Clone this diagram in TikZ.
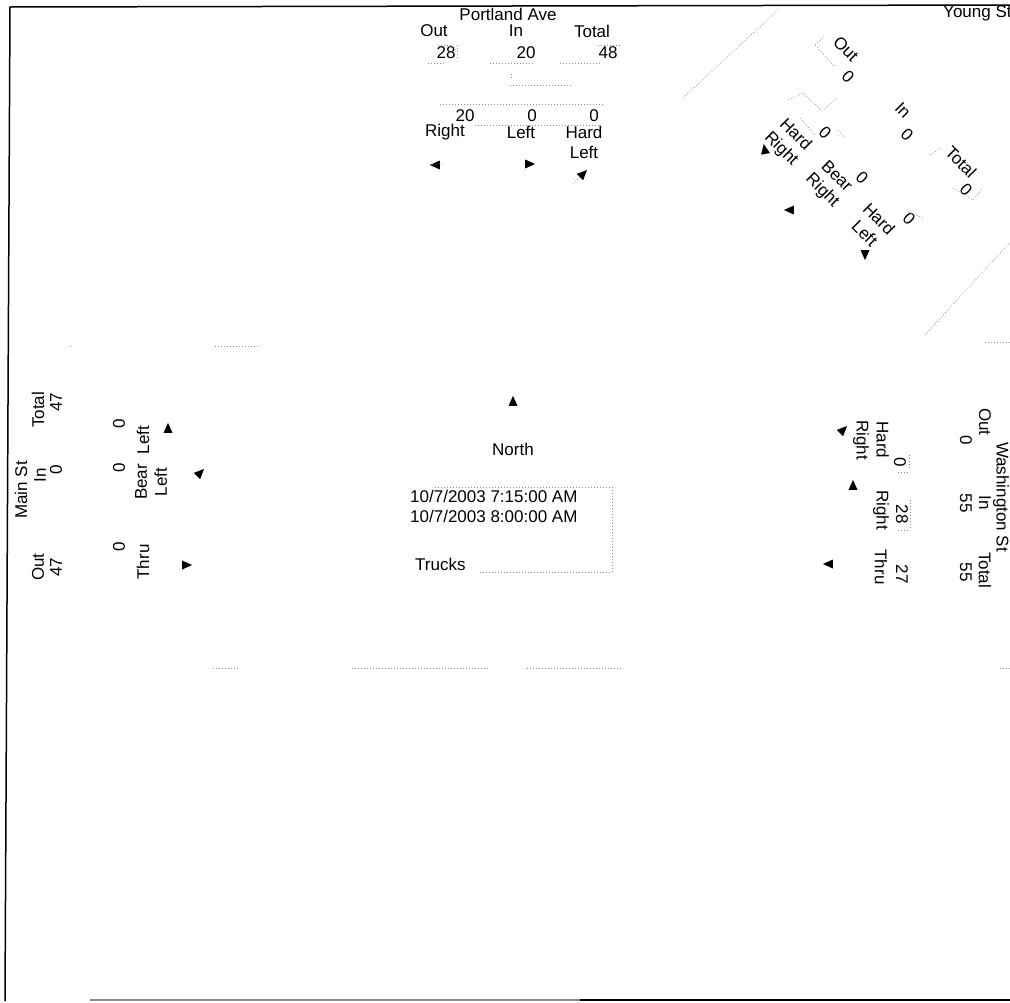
\documentclass[tikz,border=0pt]{standalone}
\usepackage{fontspec}
\setmainfont{Liberation Sans}
\usetikzlibrary{shapes.geometric}
\tikzset{
  lbl/.style={inner sep=0pt, font=\fontsize{17}{20}\selectfont, align=center},
  tipmark/.style={isosceles triangle, isosceles triangle apex angle=70, isosceles triangle stretches, fill=black, draw=none, inner sep=0pt, minimum width=9pt, minimum height=10pt},
  faint/.style={black!45, line width=0.6pt, dash pattern=on 1pt off 2pt},
  framel/.style={line width=1.5pt, black},
}
\begin{document}
\begin{tikzpicture}[x=1pt,y=-1pt]
\useasboundingbox (0,0) rectangle (1010,1002);
\clip (0,0) rectangle (1010,1002);
% frame
\coordinate (f1) at (10,7);
\coordinate (f2) at (1012,5);
\coordinate (f3) at (5,1001);
\coordinate (f4) at (90,1000);
\coordinate (f5) at (580,1000);
\coordinate (f6) at (1012,1000);
\draw[framel] (f2) -- (f1) -- (f3);
\draw[line width=1.3pt, black!45] (f4) -- (f5);
\draw[line width=1.5pt] (f5) -- (f6);

% ---------------- Portland Ave (north)
\node[lbl] (pa) at (508,14) {Portland Ave};
\node[lbl] (pout) at (434,31) {Out};
\node[lbl] (pin) at (516,31) {In};
\node[lbl] (ptot) at (592,31) {Total};
\node[lbl] (poutv) at (446,53) {28};
\node[lbl] (pinv) at (526,53) {20};
\node[lbl] (ptotv) at (608,53) {48};
\node[lbl] (pr) at (445,132) {Right};
\node[lbl] (pl) at (521,132) {Left};
\node[lbl] (phl) at (584,142) {Hard\\Left};
\node[lbl] (prv) at (465,116) {20};
\node[lbl] (plv) at (532,116) {0};
\node[lbl] (phlv) at (594,116) {0};
\node[tipmark, rotate=180] (pra) at (437,165) {};
\node[tipmark] (pla) at (528,164) {};
\node[tipmark, rotate=45] (phla) at (582,175) {};
\draw[faint] (pra.east) -- ++(14,-2);
\draw[faint] (phla.west) -- ++(-8,8);
\draw[faint] (428,63) -- (445,63) (438,45) -- (452,45) (457,45) -- (457,58);
\draw[faint] (490,63) -- (535,63) (598,45) -- (620,45) (560,63) -- (600,63);
\draw[faint] (511,74) -- (511,78) (510,85) -- (572,85);
\draw[faint] (440,104) -- (605,104) (475,125) -- (600,125);

% ---------------- Young St (north-east)
\node[lbl, anchor=west] (ys) at (943,13) {Young St};
\node[lbl, rotate=-45] (yout) at (846,49) {Out};
\node[lbl, rotate=-45] (youtv) at (848,77) {0};
\node[lbl, rotate=-45] (yin) at (903,110) {In};
\node[lbl, rotate=-45] (yinv) at (907,135) {0};
\node[lbl, rotate=-45] (ytot) at (961,162) {Total};
\node[lbl, rotate=-45] (ytotv) at (966,190) {0};
\node[lbl, rotate=-45] (yhr) at (788,142) {Hard\\Right};
\node[lbl, rotate=-45] (yhrv) at (825,133) {0};
\node[lbl, rotate=-45] (ybr) at (829,184) {Bear\\Right};
\node[lbl, rotate=-45] (ybrv) at (862,178) {0};
\node[lbl, rotate=-45] (yhl) at (872,226) {Hard\\Left};
\node[lbl, rotate=-45] (yhlv) at (909,219) {0};
\node[tipmark, rotate=100] (yhra) at (765,151) {};
\node[tipmark, rotate=180] (ybra) at (791,210) {};
\node[tipmark, rotate=-90] (yhla) at (865,253) {};
\draw[faint] (683,98) -- (780,8);
\draw[faint] (925,335) -- (1012,240);
\draw[faint] (815,45) -- (825,35) (815,45) -- (835,67);
\draw[faint] (788,100) -- (803,93) -- (822,111) -- (837,98);
\draw[faint] (800,118) -- (815,135) (838,130) -- (845,138);
\draw[faint] (930,155) -- (941,148) (953,188) -- (973,200) -- (983,188);
\draw[faint] (908,212) -- (923,218);

% ---------------- Main St (west)
\node[lbl, rotate=90] (ms) at (21,490) {Main St};
\node[lbl, rotate=90] (mout) at (38,567) {Out};
\node[lbl, rotate=90] (moutv) at (56,567) {47};
\node[lbl, rotate=90] (min) at (40,475) {In};
\node[lbl, rotate=90] (minv) at (56,470) {0};
\node[lbl, rotate=90] (mtot) at (38,410) {Total};
\node[lbl, rotate=90] (mtotv) at (56,402) {47};
\node[lbl, rotate=90] (ml) at (143,440) {Left};
\node[lbl, rotate=90] (mlv) at (119,424) {0};
\node[lbl, rotate=90] (mbl) at (151,482) {Bear\\Left};
\node[lbl, rotate=90] (mblv) at (119,468) {0};
\node[tipmark, rotate=90] (mla) at (168,430) {};
\node[tipmark, rotate=45] (mbla) at (199,474) {};
\node[lbl, rotate=90] (mth) at (143,562) {Thru};
\node[lbl, rotate=90] (mthv) at (119,547) {0};
\node[tipmark] (mtha) at (185,565) {};
\draw[faint] (70,346) -- (72,346) (215,346) -- (260,346);

% ---------------- Washington St (east)
\node[lbl, rotate=-90] (ws) at (1001,497) {Washington St};
\node[lbl, rotate=-90] (wout) at (985,422) {Out};
\node[lbl, rotate=-90] (woutv) at (966,440) {0};
\node[lbl, rotate=-90] (win) at (985,503) {In};
\node[lbl, rotate=-90] (winv) at (966,503) {55};
\node[lbl, rotate=-90] (wtot) at (985,570) {Total};
\node[lbl, rotate=-90] (wtotv) at (966,572) {55};
\node[lbl, rotate=-90] (whr) at (871,440) {Hard\\Right};
\node[lbl, rotate=-90] (whrv) at (900,462) {0};
\node[lbl, rotate=-90] (wr) at (881,510) {Right};
\node[lbl, rotate=-90] (wrv) at (902,514) {28};
\node[lbl, rotate=-90] (wth) at (881,567) {Thru};
\node[lbl, rotate=-90] (wthv) at (902,574) {27};
\node[tipmark, rotate=45] (whra) at (842,431) {};
\node[tipmark, rotate=90] (wra) at (853,487) {};
\node[tipmark, rotate=180] (wtha) at (830,564) {};
\draw[faint] (909,455) -- (909,470) (898,472) -- (910,472);
\draw[faint] (910,500) -- (910,530) (898,530) -- (910,530);
\draw[faint] (985,342) -- (1012,342);

% ---------------- centre
\node[tipmark, rotate=90] (nta) at (513,403) {};
\node[lbl] (north) at (513,449) {North};
\node[lbl, anchor=west, align=left] (dt) at (410,506) {10/7/2003 7:15:00 AM\\10/7/2003 8:00:00 AM};
\node[lbl, anchor=west] (trk) at (415,564) {Trucks};
\draw[faint] (435,487) -- (612,487) -- (612,572) -- (480,572);
\draw[faint] (213,668) -- (240,668) (352,668) -- (490,668) (527,668) -- (622,668) (1000,668) -- (1012,668);
\end{tikzpicture}
\end{document}
